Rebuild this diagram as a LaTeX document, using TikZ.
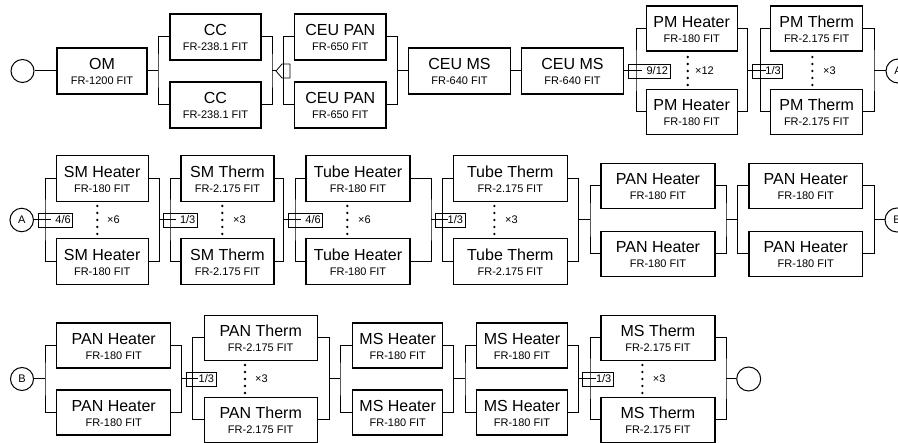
\documentclass[tikz,border=0pt]{standalone}
\usepackage{fontspec}
\setmainfont{Liberation Sans}
\newcommand\blkbox[7]{%
  \node[blk, minimum width=#4pt, minimum height=#5pt] (#1) at (#2,#3) {};
  \node[ttl] (#1t) at ([yshift=1pt]#1.center) {#6};
  \node[subt] (#1s) at ([yshift=-14pt]#1.center) {#7};
}
\newcommand\dotcol[2]{%
  \foreach \dd in {-14,-7,0,7,14} \fill (#1,#2+\dd) circle (1.3pt);
}
\begin{document}
\begin{tikzpicture}[x=1pt,y=-1pt,
  blk/.style={draw, line width=1.1pt, inner sep=0pt},
  ttl/.style={anchor=base, inner sep=0pt, font=\fontsize{16}{16}\selectfont},
  subt/.style={anchor=base, inner sep=0pt, font=\fontsize{11}{11}\selectfont},
  wire/.style={line width=1pt},
  kbox/.style={draw, line width=0.6pt, inner xsep=2pt, inner ysep=0pt, minimum height=14pt, align=right, font=\fontsize{11}{11}\selectfont},
  mult/.style={anchor=west, inner sep=0pt, font=\fontsize{11}{11}\selectfont},
  term/.style={draw, circle, line width=1pt, inner sep=0pt, font=\fontsize{11}{11}\selectfont}]
\useasboundingbox (0,0) rectangle (898,443);
\clip (0,0) rectangle (898,443);

% ---------------- Row 1 ----------------
\node[term, minimum size=23pt] (S) at (22.5,71) {};
\blkbox{OM}{102}{71}{90}{46}{OM}{FR-1200 FIT}
\blkbox{CCa}{215.5}{37}{91}{46}{CC}{FR-238.1 FIT}
\blkbox{CCb}{215.5}{105}{91}{46}{CC}{FR-238.1 FIT}
\blkbox{CPa}{340.3}{37}{91.3}{46}{CEU PAN}{FR-650 FIT}
\blkbox{CPb}{340.3}{105}{91.3}{46}{CEU PAN}{FR-650 FIT}
\blkbox{CMa}{459.5}{71}{102.4}{46}{CEU MS}{FR-640 FIT}
\blkbox{CMb}{572.5}{71}{101.6}{46}{CEU MS}{FR-640 FIT}
\blkbox{PHa}{691.7}{28.5}{91.3}{45}{PM Heater}{FR-180 FIT}
\blkbox{PHb}{691.7}{112}{91.3}{45}{PM Heater}{FR-180 FIT}
\blkbox{PTa}{816.7}{28.5}{92}{45}{PM Therm}{FR-2.175 FIT}
\blkbox{PTb}{816.7}{112}{92}{45}{PM Therm}{FR-2.175 FIT}
\node[term, minimum size=24pt] (Aa) at (898,71) {A};

\coordinate (j1) at (158,71);
\coordinate (j2) at (272,71);
\coordinate (j3) at (283.3,71);
\coordinate (j4) at (397.3,71);
\coordinate (j5) at (636,71);
\coordinate (j6) at (747.7,71);
\coordinate (j7) at (760.7,71);
\coordinate (j8) at (874,71);
\coordinate (sb) at (276,71);
\coordinate (k1) at (642,71);
\coordinate (k2) at (766,71);

\draw[wire] (S.east) -- (OM.west);
\draw[wire] (OM.east) -- (j1);
\draw[wire] (CCa.west) -| (j1) |- (CCb.west);
\draw[wire] (CCa.east) -| (j2) |- (CCb.east);
\draw[wire] (j2) -- (sb);
\draw[line width=0.8pt] (sb) -- ++(6,-7) -- ++(8,0) -- ++(0,14) -- ++(-8,0) -- cycle;
\draw[wire] (CPa.west) -| (j3) |- (CPb.west);
\draw[wire] (CPa.east) -| (j4) |- (CPb.east);
\draw[wire] (j4) -- (CMa.west);
\draw[wire] (CMa.east) -- (CMb.west);
\draw[wire] (CMb.east) -- (k1);
\draw[wire] (PHa.west) -| (j5) |- (PHb.west);
\draw[wire] (PHa.east) -| (j6) |- (PHb.east);
\node[kbox, text width=38pt] (La) at (649,71) {9/12};
\draw[wire] (j6) -- (k2);
\draw[wire] (PTa.west) -| (j7) |- (PTb.west);
\draw[wire] (PTa.east) -| (j8) |- (PTb.east);
\node[kbox, text width=26pt] (Lb) at (767.7,71) {1/3};
\draw[wire] (j8) -- (Aa.west);
\dotcol{687.7}{71}
\node[mult] (Ma) at (695,71) {×12};
\dotcol{812.3}{71}
\node[mult] (Mb) at (823,71) {×3};

% ---------------- Row 2 ----------------
\node[term, minimum size=23.5pt] (Ab) at (21.7,220) {A};
\blkbox{SHa}{102.2}{178.5}{92.3}{46}{SM Heater}{FR-180 FIT}
\blkbox{SHb}{102.2}{261.5}{92.3}{46}{SM Heater}{FR-180 FIT}
\blkbox{STa}{227.5}{178.5}{93}{46}{SM Therm}{FR-2.175 FIT}
\blkbox{STb}{227.5}{261.5}{93}{46}{SM Therm}{FR-2.175 FIT}
\blkbox{THa}{358}{178.5}{104}{46}{Tube Heater}{FR-180 FIT}
\blkbox{THb}{358}{261.5}{104}{46}{Tube Heater}{FR-180 FIT}
\blkbox{TTa}{510.3}{178.5}{114}{46}{Tube Therm}{FR-2.175 FIT}
\blkbox{TTb}{510.3}{261.5}{114}{46}{Tube Therm}{FR-2.175 FIT}
\blkbox{QHa}{658}{186}{114}{45}{PAN Heater}{FR-180 FIT}
\blkbox{QHb}{658}{254}{114}{45}{PAN Heater}{FR-180 FIT}
\blkbox{RHa}{805.8}{186}{113.7}{45}{PAN Heater}{FR-180 FIT}
\blkbox{RHb}{805.8}{254}{113.7}{45}{PAN Heater}{FR-180 FIT}
\node[term, minimum size=24pt] (Ba) at (897,220) {B};

\coordinate (m1) at (45,220);
\coordinate (m2) at (159.3,220);
\coordinate (m3) at (170,220);
\coordinate (m4) at (283.7,220);
\coordinate (m5) at (295,220);
\coordinate (m6) at (431,220);
\coordinate (m7) at (442.3,220);
\coordinate (m8) at (578.3,220);
\coordinate (m9) at (590,220);
\coordinate (m10) at (726,220);
\coordinate (m11) at (737.3,220);
\coordinate (m12) at (874.3,220);
\coordinate (q1) at (51,220);
\coordinate (q2) at (176,220);
\coordinate (q3) at (301,220);
\coordinate (q4) at (448,220);

\draw[wire] (Ab.east) -- (q1);
\draw[wire] (SHa.west) -| (m1) |- (SHb.west);
\draw[wire] (SHa.east) -| (m2) |- (SHb.east);
\node[kbox, text width=30.4pt] (Lc) at (55.5,220) {4/6};
\draw[wire] (m2) -- (q2);
\draw[wire] (STa.west) -| (m3) |- (STb.west);
\draw[wire] (STa.east) -| (m4) |- (STb.east);
\node[kbox, text width=30pt] (Ld) at (180.3,220) {1/3};
\draw[wire] (m4) -- (q3);
\draw[wire] (THa.west) -| (m5) |- (THb.west);
\draw[wire] (THa.east) -| (m6) |- (THb.east);
\node[kbox, text width=30.4pt] (Le) at (305.5,220) {4/6};
\draw[wire] (m6) -- (q4);
\draw[wire] (TTa.west) -| (m7) |- (TTb.west);
\draw[wire] (TTa.east) -| (m8) |- (TTb.east);
\node[kbox, text width=26pt] (Lf) at (450,220) {1/3};
\draw[wire] (m8) -- (m9);
\draw[wire] (QHa.west) -| (m9) |- (QHb.west);
\draw[wire] (QHa.east) -| (m10) |- (QHb.east);
\draw[wire] (m10) -- (m11);
\draw[wire] (RHa.west) -| (m11) |- (RHb.west);
\draw[wire] (RHa.east) -| (m12) |- (RHb.east);
\draw[wire] (m12) -- (Ba.west);
\dotcol{97.3}{220}
\node[mult] (Mc) at (107,220) {×6};
\dotcol{222.3}{220}
\node[mult] (Md) at (233,220) {×3};
\dotcol{347.3}{220}
\node[mult] (Me) at (358,220) {×6};
\dotcol{494.3}{220}
\node[mult] (Mf) at (505,220) {×3};

% ---------------- Row 3 ----------------
\node[term, minimum size=23pt] (Bb) at (22,379) {B};
\blkbox{UHa}{113.7}{345.5}{114}{45}{PAN Heater}{FR-180 FIT}
\blkbox{UHb}{113.7}{412.5}{114}{45}{PAN Heater}{FR-180 FIT}
\blkbox{UTa}{260.7}{338}{113.3}{45}{PAN Therm}{FR-2.175 FIT}
\blkbox{UTb}{260.7}{420}{113.3}{45}{PAN Therm}{FR-2.175 FIT}
\blkbox{VHa}{397.7}{345.5}{90}{45}{MS Heater}{FR-180 FIT}
\blkbox{VHb}{397.7}{412.5}{90}{45}{MS Heater}{FR-180 FIT}
\blkbox{WHa}{522}{345.5}{90.6}{45}{MS Heater}{FR-180 FIT}
\blkbox{WHb}{522}{412.5}{90.6}{45}{MS Heater}{FR-180 FIT}
\blkbox{XTa}{658}{338}{114}{45}{MS Therm}{FR-2.175 FIT}
\blkbox{XTb}{658}{420}{114}{45}{MS Therm}{FR-2.175 FIT}
\node[term, minimum size=24pt] (E) at (748.7,379) {};

\coordinate (n1) at (45,379);
\coordinate (n2) at (181.7,379);
\coordinate (n3) at (192.7,379);
\coordinate (n4) at (329.3,379);
\coordinate (n5) at (340,379);
\coordinate (n6) at (453.3,379);
\coordinate (n7) at (465,379);
\coordinate (n8) at (578.3,379);
\coordinate (n9) at (590,379);
\coordinate (n10) at (726,379);
\coordinate (r1) at (198,379);
\coordinate (r2) at (596,379);

\draw[wire] (Bb.east) -- (n1);
\draw[wire] (UHa.west) -| (n1) |- (UHb.west);
\draw[wire] (UHa.east) -| (n2) |- (UHb.east);
\draw[wire] (n2) -- (r1);
\node[kbox, text width=26pt] (Lg) at (201,379) {1/3};
\draw[wire] (UTa.west) -| (n3) |- (UTb.west);
\draw[wire] (UTa.east) -| (n4) |- (UTb.east);
\draw[wire] (n4) -- (n5);
\draw[wire] (VHa.west) -| (n5) |- (VHb.west);
\draw[wire] (VHa.east) -| (n6) |- (VHb.east);
\draw[wire] (n6) -- (n7);
\draw[wire] (WHa.west) -| (n7) |- (WHb.west);
\draw[wire] (WHa.east) -| (n8) |- (WHb.east);
\draw[wire] (n8) -- (r2);
\node[kbox, text width=26.6pt] (Lh) at (598,379) {1/3};
\draw[wire] (XTa.west) -| (n9) |- (XTb.west);
\draw[wire] (XTa.east) -| (n10) |- (XTb.east);
\draw[wire] (n10) -- (E.west);
\dotcol{245}{379}
\node[mult] (Mg) at (255,379) {×3};
\dotcol{642.3}{379}
\node[mult] (Mh) at (652.7,379) {×3};
\end{tikzpicture}
\end{document}
